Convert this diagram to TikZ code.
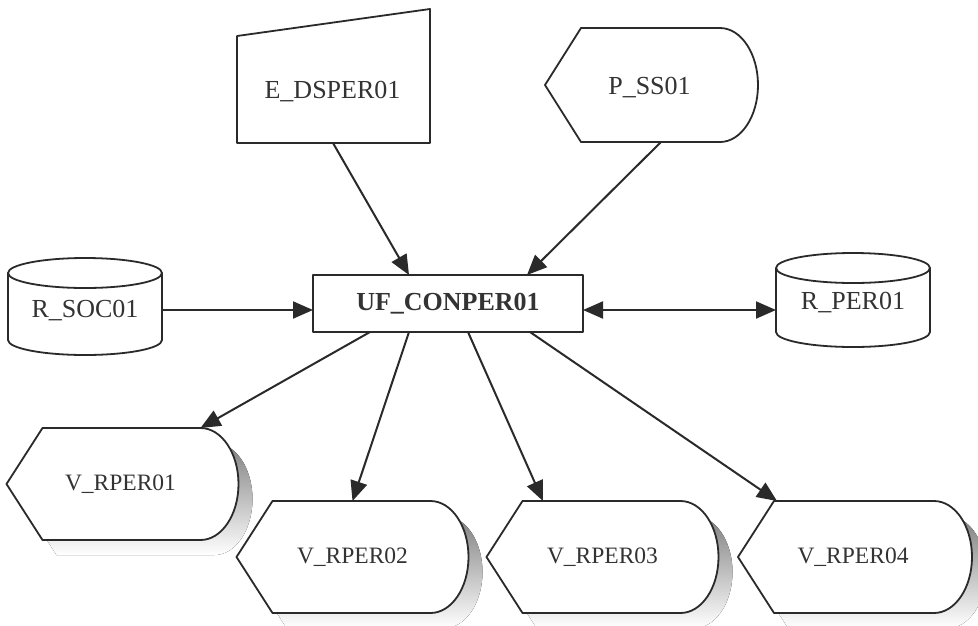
\documentclass[tikz,border=0pt]{standalone}
\usepackage{fontspec}
\setmainfont{Liberation Serif}
\usetikzlibrary{arrows.meta}
\definecolor{ink}{HTML}{2A2A2A}
\definecolor{txt}{HTML}{333333}
\definecolor{shade}{HTML}{9C9C9C}
\tikzset{
  box/.style={inner sep=0pt, outer sep=0pt, text=txt, font=\fontsize{26}{30}\selectfont},
  vbox/.style={box, minimum width=232pt, minimum height=112pt, font=\fontsize{23.5}{28}\selectfont},
  outline/.style={draw=ink, line width=1.8pt, fill=white, line join=round},
  arr/.style={draw=ink, line width=2pt, -{Triangle[length=20pt,width=17pt]}},
  darr/.style={draw=ink, line width=2pt, {Triangle[length=20pt,width=17pt]}-{Triangle[length=20pt,width=17pt]}}
}
% display shape: #1 node name, #2 half height, #3 shift
\newcommand{\dispshape}[3]{%
  ([shift={#3}]#1.west) -- ([shift={#3}, xshift=36pt]#1.north west) -- ([shift={#3}, xshift=-38pt]#1.north east)
  arc[start angle=90, end angle=-90, x radius=38pt, y radius=#2]
  -- ([shift={#3}, xshift=36pt]#1.south west) -- cycle}
\begin{document}
\begin{tikzpicture}[x=1pt,y=-1pt]
\useasboundingbox[fill=white] (0,0) rectangle (978,625);

% nodes (boxes of the shapes)
\node[box, minimum width=193pt, minimum height=107pt] (e) at (333.5,89.5) {};
\node[box, minimum width=213pt, minimum height=114pt] (p) at (651.5,85) {};
\node[box, minimum width=154pt, minimum height=97pt] (rsoc) at (85,306.5) {};
\node[box, minimum width=154pt, minimum height=94pt] (rper) at (853,300) {};
\node[box, minimum width=270pt, minimum height=57pt] (uf) at (448,303.5) {};
\node[vbox] (v1) at (122.5,484) {};
\node[vbox] (v2) at (352.5,557) {};
\node[vbox] (v3) at (602.5,557) {};
\node[vbox, minimum width=234pt] (v4) at (855,557) {};

% shadows of the V shapes
\foreach \n in {v1,v2,v3,v4}{
  \fill[shade] \dispshape{\n}{56pt}{(14pt,-15pt)};
}

% outlines
\draw[outline] (e.south west) -- (e.north west) -- ([yshift=27pt]e.north east) -- (e.south east) -- cycle;
\draw[outline] \dispshape{p}{57pt}{(0pt,0pt)};
\foreach \n in {v1,v2,v3,v4}{
  \draw[outline] \dispshape{\n}{56pt}{(0pt,0pt)};
}
% cylinders
\foreach \n in {rsoc,rper}{
  \draw[outline] ([yshift=-15pt]\n.north west) -- ([yshift=15pt]\n.south west)
    arc[start angle=180, end angle=360, x radius=77pt, y radius=15pt]
    -- ([yshift=-15pt]\n.north east)
    arc[start angle=0, end angle=180, x radius=77pt, y radius=15pt] -- cycle;
  \draw[draw=ink, line width=1.8pt] ([yshift=-15pt]\n.north west)
    arc[start angle=180, end angle=360, x radius=77pt, y radius=15pt];
}
\draw[outline] (uf.south west) rectangle (uf.north east);

% texts
\node[box] at ([xshift=-1pt, yshift=-2pt]e.center) {E\_DSPER01};
\node[box] at ([xshift=-2pt, yshift=-3pt]p.center) {P\_SS01};
\node[box] at ([yshift=-4pt]rsoc.center) {R\_SOC01};
\node[box] at ([yshift=-3pt]rper.center) {R\_PER01};
\node[box, font=\fontsize{26}{30}\selectfont\bfseries] at (uf.center) {UF\_CONPER01};
\node[box, font=\fontsize{23.5}{28}\selectfont] at ([xshift=-2pt]v1.center) {V\_RPER01};
\node[box, font=\fontsize{23.5}{28}\selectfont] at (v2.center) {V\_RPER02};
\node[box, font=\fontsize{23.5}{28}\selectfont] at (v3.center) {V\_RPER03};
\node[box, font=\fontsize{23.5}{28}\selectfont] at ([xshift=-2pt]v4.center) {V\_RPER04};

% connectors
\draw[arr] ([xshift=-0.5pt]e.south) -- ([xshift=-39pt]uf.north);
\draw[arr] ([xshift=9.5pt]p.south) -- ([xshift=79pt]uf.north);
\draw[arr] ([yshift=-3.5pt]rsoc.east) -- ([yshift=-6.5pt]uf.west);
\draw[darr] ([yshift=-6.5pt]uf.east) -- ([yshift=-10pt]rper.west);
\draw[arr] ([xshift=-78pt]uf.south) -- ([xshift=-38pt]v1.north east);
\draw[arr] ([xshift=-39pt]uf.south) -- (v2.north);
\draw[arr] ([xshift=20pt]uf.south) -- ([xshift=-59.5pt]v3.north);
\draw[arr] ([xshift=82pt]uf.south) -- ([xshift=-78pt]v4.north);
\end{tikzpicture}
\end{document}
